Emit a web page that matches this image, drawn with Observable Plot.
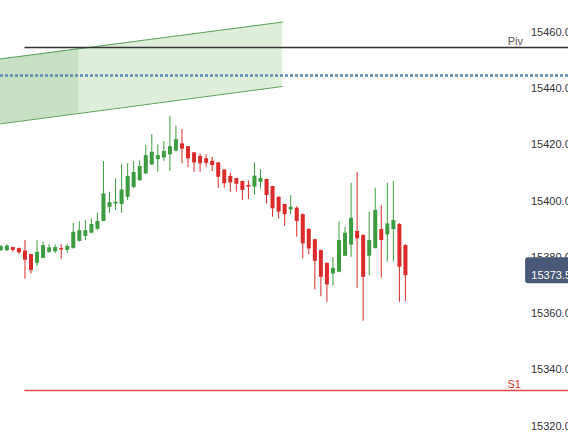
<!DOCTYPE html>
<html><head><meta charset="utf-8">
<script src="https://cdn.jsdelivr.net/npm/d3@7"></script>
<script src="https://cdn.jsdelivr.net/npm/@observablehq/plot@0.6"></script>
<style>html,body{margin:0;padding:0;background:#fff;overflow:hidden}</style>
</head><body><div id="chart"></div>
<script>
// Candle values (index 0 = leftmost visible candle)
const opens  = [15382.4,15382.4,15383.5,15383.1,15382.3,15381.0,15377.9,15379.7,15381.8,15382.0,15383.1,15382.5,15383.2,15385.7,15387.4,15388.6,15390.0,15392.8,15397.8,15399.0,15398.8,15401.4,15404.9,15407.3,15409.7,15412.9,15414.8,15415.4,15416.5,15417.8,15420.4,15419.4,15417.2,15415.9,15415.1,15414.2,15413.6,15411.1,15408.8,15408.0,15407.0,15405.6,15405.0,15406.7,15407.7,15405.2,15401.4,15398.8,15396.9,15397.5,15395.2,15389.9,15386.3,15382.4,15377.9,15374.1,15374.7,15380.4,15384.4,15389.2,15387.8,15380.4,15383.2,15389.9,15388.0,15389.9,15391.7,15384.2];
const highs  = [15384.2,15384.5,15383.6,15383.3,15386.0,15381.0,15386.0,15385.4,15384.6,15384.5,15384.6,15384.6,15392.1,15392.7,15393.1,15393.7,15395.7,15414.1,15403.2,15407.9,15413.0,15413.3,15414.1,15414.4,15419.8,15423.7,15420.0,15421.2,15430.1,15426.7,15425.5,15419.5,15417.3,15416.8,15416.5,15415.6,15413.7,15411.2,15410.1,15408.2,15407.1,15407.2,15413.6,15411.2,15407.8,15405.3,15401.5,15399.0,15402.0,15398.0,15395.5,15390.3,15386.5,15382.6,15378.0,15380.0,15392.7,15390.7,15406.4,15410.3,15388.0,15396.1,15404.6,15398.4,15406.4,15407.0,15392.0,15384.5];
const lows   = [15382.1,15382.1,15381.8,15381.1,15372.3,15374.1,15376.7,15379.5,15381.4,15381.3,15379.3,15381.4,15382.9,15385.4,15386.0,15388.4,15389.5,15392.7,15395.7,15396.7,15395.7,15400.2,15404.4,15407.0,15409.5,15412.7,15410.3,15414.2,15410.6,15417.5,15413.3,15411.9,15410.3,15410.3,15412.1,15410.5,15404.6,15404.6,15403.2,15403.2,15400.2,15400.6,15402.2,15404.4,15399.0,15394.3,15393.7,15391.1,15395.2,15387.2,15379.5,15380.9,15368.4,15366.0,15364.0,15369.8,15374.5,15380.3,15380.0,15369.0,15357.3,15373.5,15383.0,15372.6,15378.3,15378.3,15364.0,15364.3];
const closes = [15383.8,15384.0,15382.5,15381.6,15379.0,15375.3,15381.8,15384.2,15383.4,15383.5,15382.6,15383.9,15388.9,15389.5,15389.5,15391.7,15392.8,15402.6,15399.5,15399.6,15404.0,15408.8,15410.2,15412.3,15416.2,15417.4,15416.2,15417.7,15419.4,15421.9,15418.5,15415.1,15413.6,15413.3,15413.5,15412.7,15408.5,15406.2,15406.5,15406.0,15403.8,15405.0,15408.9,15408.1,15402.0,15397.3,15396.1,15395.2,15397.8,15392.8,15384.8,15383.0,15378.6,15372.9,15370.2,15376.1,15386.0,15388.6,15393.9,15386.6,15372.9,15386.0,15396.7,15386.0,15391.9,15393.1,15376.5,15373.5];

// Axis tick values
const yTicks = [15460,15440,15420,15400,15380,15360,15340,15320];

// Levels
const pivotLevel = 15454.7;
const s1Level = 15332.6;
const blueLevel = 15444.7;
const levelStart = 4;          // candle index where Piv / S1 begin
const lastPrice = 15373.5;

// Channel (upward sloping band)
const channelX     = [-0.05, 46.6];
const channelUpper = [15450.6, 15463.7];
const channelLower = [15427.5, 15440.8];
const shadeX       = [-0.05, 12.92];
const shadeUpper   = [15450.6, 15454.2];
const shadeLower   = [15427.5, 15431.2];

const X0 = -0.05, X1 = 94;
const GREEN = "#3d9c40", RED = "#db2b2b";

const candles = opens.map((o, i) => ({i, o, h: highs[i], l: lows[i], c: closes[i], up: closes[i] >= o}));
const chan = channelX.map((x, k) => ({x, lo: channelLower[k], hi: channelUpper[k]}));
const shade = shadeX.map((x, k) => ({x, lo: shadeLower[k], hi: shadeUpper[k]}));
const col = d => d.up ? GREEN : RED;

const chart = Plot.plot({
  width: 568, height: 439,
  marginTop: 0, marginBottom: 0, marginLeft: 0, marginRight: 0,
  style: {fontFamily: "'Liberation Sans', Arial, sans-serif", background: "#fff"},
  x: {domain: [X0, X1], axis: null},
  y: {domain: [15315.2, 15471.4], axis: null},
  marks: [
    Plot.areaY(chan, {x: "x", y1: "lo", y2: "hi", fill: "#dfeddb", curve: "linear"}),
    Plot.areaY(shade, {x: "x", y1: "lo", y2: "hi", fill: "#c7dfc3"}),
    Plot.line(chan, {x: "x", y: "hi", stroke: "#5ca25c", strokeWidth: 1}),
    Plot.line(chan, {x: "x", y: "lo", stroke: "#5ca25c", strokeWidth: 1}),
    Plot.ruleY([blueLevel], {x1: X0, x2: X1, stroke: "#5b8bb3", strokeWidth: 2.5, strokeDasharray: "3,2"}),
    Plot.ruleY([pivotLevel], {x1: levelStart, x2: X1, stroke: "#333", strokeWidth: 1.6}),
    Plot.ruleY([s1Level], {x1: levelStart, x2: X1, stroke: "#e04848", strokeWidth: 1.5}),
    Plot.text([pivotLevel], {x: 85.2, y: d => d, text: () => "Piv", dy: -5.5, fill: "#555", fontSize: 11}),
    Plot.text([s1Level], {x: 85.0, y: d => d, text: () => "S1", dy: -6, fill: "#d33", fontSize: 11}),
    Plot.ruleX(candles, {x: "i", y1: "l", y2: "h", stroke: col, strokeWidth: 1}),
    Plot.ruleX(candles, {x: "i", y1: d => Math.abs(d.o - d.c) < 0.4 ? d.o + 0.25 : d.o, y2: d => Math.abs(d.o - d.c) < 0.4 ? d.o - 0.25 : d.c, stroke: col, strokeWidth: 4}),
    Plot.axisY(yTicks, {anchor: "right", tickSize: 0, tickPadding: 0, dx: -37.5, label: null,
      tickFormat: d => d.toFixed(2), fontSize: 11, fill: "#333", textAnchor: "start"}),
    Plot.rect([lastPrice], {x1: 86.9, x2: 95, y1: d => d - 2.9, y2: d => d + 6.4, fill: "#485876", rx: 3}),
    Plot.text([lastPrice], {x: 87.85, y: d => d, text: d => d.toFixed(2), textAnchor: "start", dy: -0.5, fill: "#fff", fontSize: 11})
  ]
});
document.getElementById("chart").appendChild(chart);
</script>
</body></html>
